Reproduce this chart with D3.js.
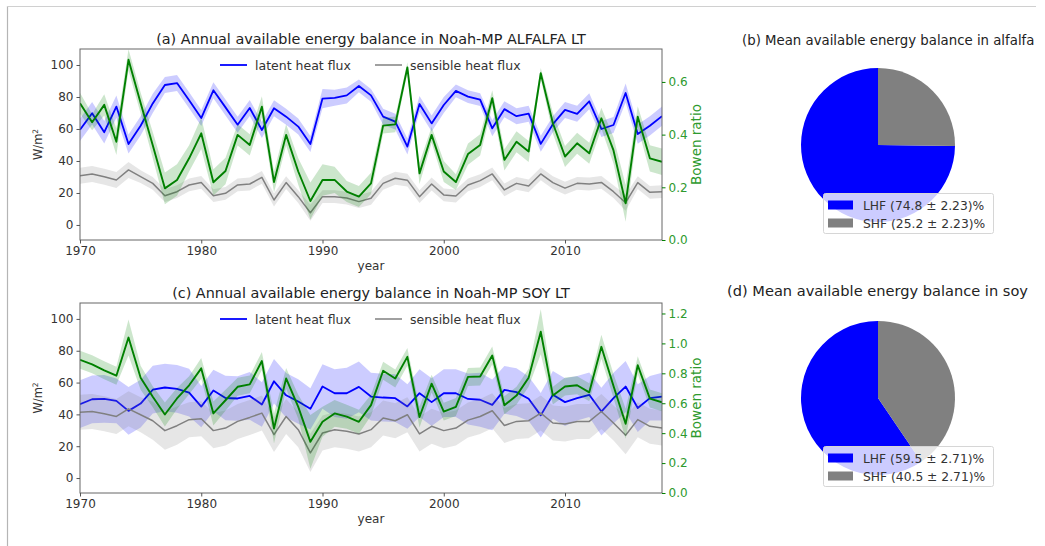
<!DOCTYPE html>
<html>
<head>
<meta charset="utf-8">
<script src="https://cdn.jsdelivr.net/npm/d3@7"></script>
<style>
    body { margin: 0; background: #ffffff; }
    svg { display: block; font-family: 'DejaVu Sans', sans-serif; }
</style>
</head>
<body>
<div id="chart"></div>
<script>
// years on the x axis
var years = [1970, 1971, 1972, 1973, 1974, 1975, 1976, 1977, 1978, 1979,
    1980, 1981, 1982, 1983, 1984, 1985, 1986, 1987, 1988, 1989,
    1990, 1991, 1992, 1993, 1994, 1995, 1996, 1997, 1998, 1999,
    2000, 2001, 2002, 2003, 2004, 2005, 2006, 2007, 2008, 2009,
    2010, 2011, 2012, 2013, 2014, 2015, 2016, 2017, 2018];

// (a) alfalfa, W/m2 and bowen ratio
var alfLhf = [59.5, 69.8, 58, 74, 50.6, 62, 76, 87.5, 88.7, 78,
    66.8, 84.2, 73.5, 62.7, 73.1, 59.4, 73, 67.7, 61.5, 50.6,
    79, 79.5, 81, 86.9, 81, 67.7, 64.6, 49, 75.6, 63.5,
    75, 83.8, 80.2, 78.3, 60.4, 72.4, 68, 69.6, 50.7, 63,
    71.9, 69.5, 77.3, 60, 62.5, 82.5, 56.8, 62, 68];
var alfLhfErr = [7, 7, 7, 7, 6, 6, 6, 5, 5, 5,
    5, 5, 5, 5, 5, 5, 5, 5, 5, 5,
    6, 5, 5, 4, 4, 5, 5, 5, 5, 5,
    5, 4, 4, 4, 5, 5, 5, 5, 5, 5,
    5, 5, 5, 5, 5, 6, 6, 6, 6];
var alfShf = [30.8, 31.9, 30.2, 28.1, 34.4, 30.2, 26, 18.3, 20.8, 25,
    26.6, 18.3, 19.8, 25, 25.6, 29.8, 15.6, 26.5, 17.7, 7.6,
    17.7, 17.7, 16.8, 14.6, 16.7, 26, 29.2, 28, 17.7, 25.6,
    18.8, 18.1, 25, 27.7, 31.9, 21.9, 26, 24.4, 31.9, 26.5,
    23, 26, 25.6, 26.6, 20.8, 13.9, 26.5, 20.4, 20.8];
var alfShfErr = [5, 5, 5, 5, 5, 4, 4, 4, 4, 4,
    4, 4, 4, 4, 4, 4, 4, 4, 4, 5,
    4, 4, 4, 4, 4, 4, 4, 4, 4, 4,
    4, 4, 4, 4, 4, 4, 4, 4, 4, 4,
    4, 4, 4, 4, 4, 5, 4, 4, 4];
var alfBowen = [0.519, 0.447, 0.513, 0.373, 0.684, 0.52, 0.36, 0.196, 0.228, 0.31,
    0.405, 0.219, 0.262, 0.399, 0.361, 0.506, 0.22, 0.399, 0.26, 0.148,
    0.228, 0.228, 0.184, 0.165, 0.215, 0.434, 0.439, 0.655, 0.253, 0.399,
    0.26, 0.22, 0.326, 0.361, 0.538, 0.304, 0.373, 0.336, 0.633, 0.443,
    0.317, 0.367, 0.329, 0.462, 0.34, 0.139, 0.468, 0.31, 0.297];
var alfBowenErr = [0.04, 0.03, 0.04, 0.05, 0.04, 0.04, 0.05, 0.06, 0.06, 0.05,
    0.06, 0.05, 0.05, 0.04, 0.04, 0.04, 0.04, 0.04, 0.05, 0.07,
    0.06, 0.05, 0.04, 0.04, 0.04, 0.03, 0.03, 0.02, 0.04, 0.03,
    0.04, 0.03, 0.04, 0.04, 0.03, 0.04, 0.04, 0.04, 0.02, 0.04,
    0.04, 0.04, 0.04, 0.04, 0.05, 0.07, 0.04, 0.05, 0.05];

// (c) soy, W/m2 and bowen ratio
var soyLhf = [46.4, 49.5, 49.8, 48.5, 42.2, 46.8, 55.5, 56.9, 56.1, 53.7,
    44.9, 55, 50.3, 50, 51.6, 46.2, 60.8, 52, 48.1, 43.5,
    57.5, 53.3, 53.3, 57.3, 51.2, 50.6, 50.2, 45, 53.3, 47.7,
    53.3, 53.3, 49.7, 49.2, 46, 55.4, 54, 49.8, 39.4, 52.3,
    47.7, 50.2, 52.3, 41.8, 50.2, 57.5, 44, 50.2, 51.2];
var soyLhfErr = [15, 15, 15, 14, 15, 15, 15, 15, 15, 15,
    13, 13, 14, 14, 15, 14, 14, 14, 14, 13,
    14, 15, 16, 16, 15, 15, 15, 14, 15, 15,
    15, 15, 16, 17, 16, 15, 15, 14, 14, 15,
    15, 14, 14, 15, 16, 16, 15, 14, 15];
var soyShf = [41.4, 41.8, 40.4, 38.7, 43.5, 39.8, 36, 29.8, 32.9, 36.7,
    37.3, 29.8, 31.4, 35.6, 38.1, 40.8, 27.3, 38.7, 30.4, 15.8,
    28.3, 30.4, 29.4, 27.7, 30.4, 37.7, 36, 39.8, 27.7, 32.5,
    29.8, 31.4, 36.4, 38.7, 42.3, 33, 35.6, 36, 40.8, 34.6,
    34, 35.6, 35.6, 41.8, 34.6, 26.9, 36.7, 32.5, 31.5];
var soyShfErr = [11, 11, 11, 11, 11, 11, 12, 12, 12, 11,
    11, 11, 11, 11, 11, 11, 11, 11, 11, 12,
    11, 11, 11, 11, 11, 11, 11, 11, 11, 11,
    11, 11, 11, 11, 11, 11, 11, 11, 11, 11,
    11, 11, 11, 11, 11, 12, 11, 11, 11];
var soyBowen = [0.89, 0.86, 0.82, 0.784, 1.039, 0.77, 0.643, 0.525, 0.632, 0.72,
    0.833, 0.532, 0.62, 0.71, 0.726, 0.882, 0.431, 0.766, 0.576, 0.342,
    0.476, 0.532, 0.51, 0.476, 0.587, 0.817, 0.765, 0.91, 0.508, 0.731,
    0.544, 0.575, 0.776, 0.779, 0.919, 0.586, 0.651, 0.77, 1.078, 0.651,
    0.712, 0.72, 0.673, 0.977, 0.715, 0.463, 0.854, 0.631, 0.606];
var soyBowenErr = [0.06, 0.06, 0.06, 0.06, 0.12, 0.08, 0.07, 0.08, 0.07, 0.06,
    0.07, 0.08, 0.07, 0.06, 0.06, 0.06, 0.1, 0.07, 0.08, 0.18,
    0.1, 0.09, 0.08, 0.08, 0.07, 0.06, 0.06, 0.06, 0.07, 0.06,
    0.06, 0.06, 0.06, 0.06, 0.06, 0.06, 0.06, 0.06, 0.15, 0.06,
    0.06, 0.06, 0.06, 0.08, 0.08, 0.1, 0.06, 0.06, 0.06];

// tick labels
var fluxTicks = [0, 20, 40, 60, 80, 100];
var yearTicks = [1970, 1980, 1990, 2000, 2010];
var alfBowenTicks = [0, 0.2, 0.4, 0.6];
var soyBowenTicks = [0, 0.2, 0.4, 0.6, 0.8, 1.0, 1.2];

// pie shares (%)
var pieLabels = ['LHF', 'SHF'];
var alfShares = [74.8, 25.2];
var alfShareErr = 2.23;
var soyShares = [59.5, 40.5];
var soyShareErr = 2.71;

var colors = { lhf: '#0000ff', shf: '#808080', bowen: '#008000' };

var svg = d3.select('#chart').append('svg')
        .attr('width', 1045)
        .attr('height', 546);

svg.append('rect')
        .attr('width', 1045)
        .attr('height', 546)
        .attr('fill', '#ffffff');

// thin frame of the screenshot
svg.append('line')
        .attr('x1', 7.5).attr('x2', 7.5)
        .attr('y1', 6).attr('y2', 546)
        .attr('stroke', '#b5b5b5')
        .attr('stroke-width', 1.2);
svg.append('line')
        .attr('x1', 7).attr('x2', 1036)
        .attr('y1', 6.5).attr('y2', 6.5)
        .attr('stroke', '#d0d0d0')
        .attr('stroke-width', 1);

var renderTimeseries = function(cfg){
    var g = svg.append('g'),
        left = 80, right = 662,
        top = cfg.top, bottom = cfg.bottom,
        midY = (top + bottom) / 2,
        clipId = 'clip-' + cfg.id;

    var x = d3.scaleLinear().domain([1970, 2018]).range([left, right]);
    var y = d3.scaleLinear().domain([-9.4, 110]).range([bottom, top]);
    var yb = d3.scaleLinear().domain(cfg.bowenDomain).range([bottom, top]);

    g.append('clipPath').attr('id', clipId)
            .append('rect')
            .attr('x', left).attr('y', top)
            .attr('width', right - left).attr('height', bottom - top);

    var plotArea = g.append('g').attr('clip-path', 'url(#' + clipId + ')');

    var drawSeries = function(vals, errs, scale, color, lineWidth, bandOpacity){
        var band = d3.area()
                .x(function(d, i){ return x(years[i]); })
                .y0(function(d, i){ return scale(d - errs[i]); })
                .y1(function(d, i){ return scale(d + errs[i]); });
        var line = d3.line()
                .x(function(d, i){ return x(years[i]); })
                .y(function(d){ return scale(d); });

        plotArea.append('path')
                .attr('d', band(vals))
                .attr('fill', color)
                .attr('fill-opacity', bandOpacity)
                .attr('stroke', 'none');
        plotArea.append('path')
                .attr('d', line(vals))
                .attr('fill', 'none')
                .attr('stroke', color)
                .attr('stroke-width', lineWidth)
                .attr('stroke-linejoin', 'round');
    };

    drawSeries(cfg.lhf, cfg.lhfErr, y, colors.lhf, 1.8, 0.2);
    drawSeries(cfg.shf, cfg.shfErr, y, colors.shf, 1.5, 0.2);
    drawSeries(cfg.bowen, cfg.bowenErr, yb, colors.bowen, 1.9, 0.2);

    // spines
    g.append('rect')
            .attr('x', left).attr('y', top)
            .attr('width', right - left).attr('height', bottom - top)
            .attr('fill', 'none')
            .attr('stroke', '#666666')
            .attr('stroke-width', 1);

    var xAxis = g.append('g')
            .attr('transform', 'translate(0,' + bottom + ')')
            .call(d3.axisBottom(x).tickValues(yearTicks).tickFormat(d3.format('d')).tickSize(3.5).tickPadding(3));
    var yAxis = g.append('g')
            .attr('transform', 'translate(' + left + ',0)')
            .call(d3.axisLeft(y).tickValues(fluxTicks).tickSize(3.5).tickPadding(3));
    var ybAxis = g.append('g')
            .attr('transform', 'translate(' + right + ',0)')
            .call(d3.axisRight(yb).tickValues(cfg.bowenTicks).tickFormat(d3.format('.1f')).tickSize(3.5).tickPadding(3));

    [xAxis, yAxis, ybAxis].forEach(function(ax){
        ax.select('.domain').remove();
        ax.selectAll('text')
                .style('font-size', '12px')
                .style('font-family', 'DejaVu Sans, sans-serif');
    });
    xAxis.selectAll('line').attr('stroke', '#555555');
    xAxis.selectAll('text').attr('fill', '#333333');
    yAxis.selectAll('line').attr('stroke', '#555555');
    yAxis.selectAll('text').attr('fill', '#333333');
    ybAxis.selectAll('line').attr('stroke', colors.bowen);
    ybAxis.selectAll('text').attr('fill', '#2e9a2e');

    // labels
    g.append('text')
            .attr('x', (left + right) / 2)
            .attr('y', top - 5)
            .attr('text-anchor', 'middle')
            .style('font-size', '14.4px')
            .attr('fill', '#222222')
            .text(cfg.title);

    g.append('text')
            .attr('x', (left + right) / 2)
            .attr('y', bottom + 30)
            .attr('text-anchor', 'middle')
            .style('font-size', '12px')
            .attr('fill', '#333333')
            .text('year');

    var yLab = g.append('text')
            .attr('text-anchor', 'middle')
            .attr('transform', 'translate(42,' + midY + ')rotate(-90)')
            .style('font-size', '11.5px')
            .attr('fill', '#333333');
    yLab.append('tspan').text('W/m');
    yLab.append('tspan').attr('dy', -4).style('font-size', '7.5px').text('2');

    g.append('text')
            .attr('text-anchor', 'middle')
            .attr('transform', 'translate(701,' + midY + ')rotate(-90)')
            .style('font-size', '13.5px')
            .attr('fill', '#2e9a2e')
            .text('Bowen ratio');

    // legend, two columns and no frame
    var legendY = top + 16;
    var items = [
        { label: 'latent heat flux', color: colors.lhf, x: 220, w: 1.8 },
        { label: 'sensible heat flux', color: colors.shf, x: 375, w: 1.5 }
    ];
    items.forEach(function(it){
        g.append('line')
                .attr('x1', it.x).attr('x2', it.x + 27)
                .attr('y1', legendY).attr('y2', legendY)
                .attr('stroke', it.color)
                .attr('stroke-width', it.w);
        g.append('text')
                .attr('x', it.x + 35)
                .attr('y', legendY + 4.5)
                .style('font-size', '12.5px')
                .attr('fill', '#333333')
                .text(it.label);
    });
};

var renderPie = function(cfg){
    var g = svg.append('g'),
        cx = 878, cy = cfg.cy, r = 77;

    g.append('text')
            .attr('x', cfg.titleX)
            .attr('y', cfg.titleY)
            .attr('text-anchor', cfg.titleAnchor)
            .style('font-size', cfg.titleSize)
            .attr('fill', '#222222')
            .text(cfg.title);

    // matplotlib style: start at 12 o'clock and go counterclockwise
    var pie = d3.pie().sort(null).startAngle(0).endAngle(-2 * Math.PI);
    var arc = d3.arc().innerRadius(0).outerRadius(r);
    var pieColors = [colors.lhf, colors.shf];

    g.append('g')
            .attr('transform', 'translate(' + cx + ',' + cy + ')')
            .selectAll('path')
            .data(pie(cfg.shares))
            .enter().append('path')
            .attr('d', arc)
            .attr('fill', function(d, i){ return pieColors[i]; });

    // legend box over the pie
    var lx = 823, ly = cfg.legendY;
    g.append('rect')
            .attr('x', lx + 0.5).attr('y', ly + 0.5)
            .attr('width', 170).attr('height', 40)
            .attr('rx', 2)
            .attr('fill', '#ffffff')
            .attr('fill-opacity', 0.8)
            .attr('stroke', '#d6d6d6');

    cfg.shares.forEach(function(v, i){
        var rowY = ly + 12 + i * 18;
        g.append('rect')
                .attr('x', lx + 5).attr('y', rowY - 4.5)
                .attr('width', 25).attr('height', 9)
                .attr('fill', pieColors[i]);
        g.append('text')
                .attr('x', lx + 40)
                .attr('y', rowY + 4.5)
                .style('font-size', '12.3px')
                .attr('fill', '#333333')
                .text(pieLabels[i] + ' (' + v.toFixed(1) + ' \u00b1 ' + cfg.err.toFixed(2) + ')%');
    });
};

renderTimeseries({
    id: 'a', top: 49, bottom: 240,
    title: '(a) Annual available energy balance in Noah-MP ALFALFA LT',
    lhf: alfLhf, lhfErr: alfLhfErr,
    shf: alfShf, shfErr: alfShfErr,
    bowen: alfBowen, bowenErr: alfBowenErr,
    bowenDomain: [0, 0.725], bowenTicks: alfBowenTicks
});

renderTimeseries({
    id: 'c', top: 303, bottom: 493,
    title: '(c) Annual available energy balance in Noah-MP SOY LT',
    lhf: soyLhf, lhfErr: soyLhfErr,
    shf: soyShf, shfErr: soyShfErr,
    bowen: soyBowen, bowenErr: soyBowenErr,
    bowenDomain: [0, 1.27], bowenTicks: soyBowenTicks
});

renderPie({
    id: 'b', cy: 145, legendY: 193,
    title: '(b) Mean available energy balance in alfalfa',
    titleX: 742, titleY: 45, titleAnchor: 'start', titleSize: '13.3px',
    shares: alfShares, err: alfShareErr
});

renderPie({
    id: 'd', cy: 398, legendY: 446,
    title: '(d) Mean available energy balance in soy',
    titleX: 877.5, titleY: 296, titleAnchor: 'middle', titleSize: '14.6px',
    shares: soyShares, err: soyShareErr
});
</script>
</body>
</html>
